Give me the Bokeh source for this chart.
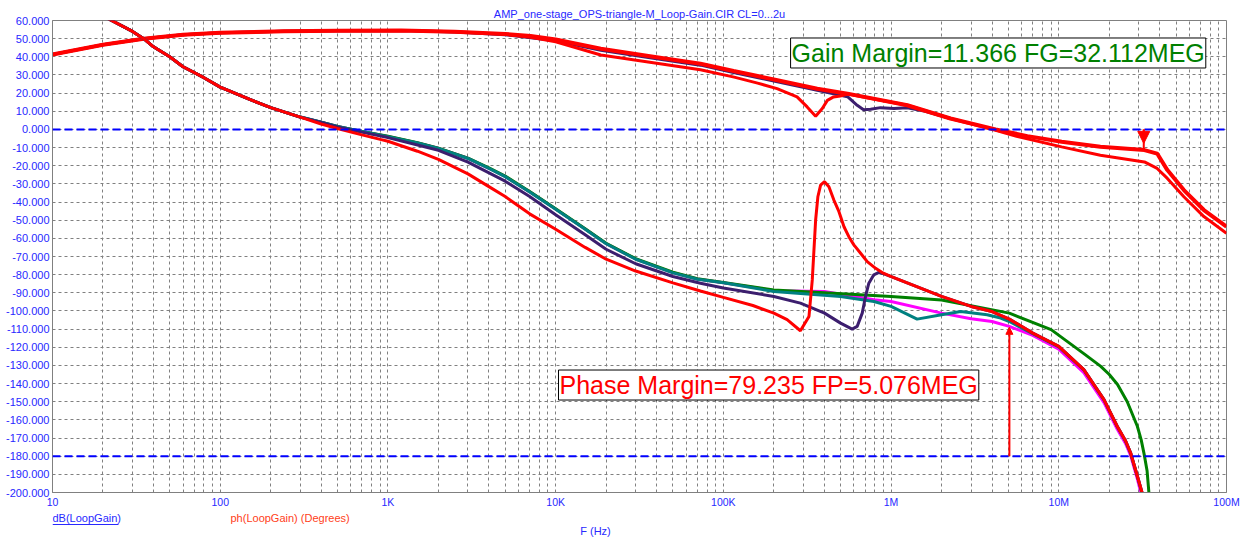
from bokeh.plotting import figure
from bokeh.layouts import column
from bokeh.models import FixedTicker, PrintfTickFormatter, Span, Label, Arrow, NormalHead, Range1d
from bokeh.core.properties import value
from bokeh.embed import file_html
from bokeh.resources import INLINE

FONT = "Liberation Sans"

# ---------------- data ----------------
TITLE = "AMP_one-stage_OPS-triangle-M_Loop-Gain.CIR CL=0...2u"
X_TICKS = [10, 100, 1000, 10000, 100000, 1000000, 10000000, 100000000]
X_TICK_LABELS = ["10", "100", "1K", "10K", "100K", "1M", "10M", "100M"]
Y_TICKS = list(range(-200, 61, 10))

# dB(LoopGain) - upper (overlapping) curve
gain_top_f = [10, 20, 35, 60, 100, 240, 500, 1.2e3, 2.5e3, 5e3, 7.1e3, 1e4, 1.86e4, 4e4, 7.3e4,
              1.15e5, 2e5, 3.63e5, 5.5e5, 1.25e6, 2.26e6, 4.2e6, 6.5e6, 1.04e7, 1.77e7, 3.24e7,
              3.86e7, 4.44e7, 5.57e7, 7.33e7, 1e8]
gain_top_v = [41.3, 46.6, 50, 52.2, 53.2, 54.1, 54.4, 54.5, 53.8, 52.6, 51.5, 49.5, 44.4, 39.8, 36.2,
              32.2, 27.5, 22.4, 19.7, 13.3, 6.0, 0.0, -3.7, -6.8, -9.6, -11.4,
              -13.3, -22.4, -33.4, -44.4, -53.6]
# dB(LoopGain) - red curve with the notch
gain_red_f = [10, 20, 35, 60, 100, 240, 500, 1.2e3, 2.5e3, 5e3, 7.1e3, 1e4, 1.86e4, 4e4, 7.3e4,
              1.16e5, 1.6e5, 2.09e5, 2.75e5, 3.16e5, 3.55e5, 3.89e5, 4.17e5, 4.54e5, 4.98e5, 5.5e5,
              1.25e6, 2.26e6, 4.2e6, 5.6e6, 1.04e7, 1.77e7, 3.24e7, 3.86e7, 4.44e7, 5.57e7, 7.33e7, 1e8]
gain_red_v = [41.3, 46.6, 50, 52.2, 53.2, 54.1, 54.4, 54.5, 53.8, 52.4, 50.8, 48.3, 41.0, 36.5, 32.9,
              28.8, 25.5, 22.5, 17.9, 12.4, 7.3, 11.5, 16.0, 17.9, 18.4, 19.5,
              13.3, 6.0, -0.5, -3.8, -9.6, -14.2, -17.9, -21.5, -27.0, -37.1, -48.0, -57.2]
# dB(LoopGain) - purple curve
gain_pur_f = [10, 20, 35, 60, 100, 240, 500, 1.2e3, 2.5e3, 5e3, 1e4, 1.86e4, 4e4, 7.3e4, 1.15e5,
              2e5, 3.63e5, 5.5e5, 6.28e5, 6.86e5, 7.55e5, 8.65e5, 1.04e6, 1.25e6, 1.6e6, 2.26e6]
gain_pur_v = [41.3, 46.6, 50, 52.2, 53.2, 54.1, 54.4, 54.5, 53.6, 52.2, 48.8, 43.6, 38.9, 35.4, 31.4,
              26.7, 21.6, 18.0, 13.3, 10.9, 11.1, 12.0, 11.5, 11.9, 10.0, 6.0]

# ph(LoopGain)
ph_red_f = [10, 15, 20, 22.5, 30, 35, 40, 50, 60, 80, 100, 150, 200, 300, 400, 500, 700, 900, 1e3,
            1.5e3, 2e3, 3e3, 4e3, 5e3, 7e3, 1e4, 1.5e4, 2e4, 3e4, 5e4, 7.3e4, 1e5, 1.5e5, 2e5, 2.4e5,
            2.88e5, 3.24e5, 3.39e5, 3.55e5, 3.66e5, 3.8e5, 4.01e5, 4.26e5, 4.56e5, 4.89e5, 5.24e5,
            5.6e5, 6e5, 6.58e5, 7.21e5, 8.09e5, 8.99e5, 9.94e5, 2e6, 3e6, 4e6, 5.07e6, 7e6, 1e7,
            1.41e7, 1.86e7, 2.23e7, 2.5e7, 2.68e7, 2.94e7, 3.15e7]
ph_red_v = [78, 68, 62.5, 60, 54, 50, 45.5, 40, 34.5, 28.5, 23.3, 16.5, 12, 6.8, 3.0, 0.5, -3.0, -5.5, -6.5,
            -12, -16.5, -24.5, -31.5, -37, -46.5, -55, -65, -71.5, -78, -84.5, -89, -92.5, -97, -101.2, -104.8,
            -110.9, -103, -82.9, -49.9, -37.1, -30.7, -28.8, -31.6, -38.9, -45.3, -53.6,
            -59.1, -63.6, -68.2, -72.8, -76.5, -79.2, -81, -92, -97.5, -100.3, -104.5, -112.2, -119.5,
            -132.3, -148.8, -163.5, -171.5, -178.1, -190.9, -200.6]
ph_pur_f = [10, 15, 20, 22.5, 30, 35, 40, 50, 60, 80, 100, 150, 200, 300, 400, 500, 700, 1e3,
            2e3, 3e3, 5e3, 7e3, 1e4, 1.5e4, 2e4, 3e4, 5e4, 7.3e4, 1e5, 2e5, 2.88e5, 4.01e5, 5e5,
            5.86e5, 6.28e5, 6.73e5, 7.04e5, 7.37e5, 7.89e5, 8.45e5, 9.06e5, 9.94e5, 2e6, 3e6, 4e6,
            5.07e6, 7e6, 1e7, 1.41e7, 1.86e7, 2.23e7, 2.5e7, 2.68e7, 2.94e7, 3.15e7]
ph_pur_v = [78, 68, 62.5, 60, 54, 50, 45.5, 40, 34.5, 28.5, 23.3, 16.5, 12, 6.8, 3.8, 1.3, -1.5, -4.5,
            -11.5, -18, -28.5, -37, -47, -58, -66, -74, -81, -84.7, -87.4, -92, -95.7, -101.2, -106.7,
            -110, -108.5, -101.2, -92, -84.7, -80.1, -78.8, -79.6, -81, -92, -97.5, -100.3,
            -104.5, -112.2, -119.5, -132.3, -148.8, -163.5, -171.5, -178.1, -190.9, -200.6]
ph_teal_f = [10, 15, 20, 22.5, 30, 35, 40, 50, 60, 80, 100, 150, 200, 300, 400, 500, 700, 1e3,
             1.5e3, 2e3, 3e3, 4e3, 5e3, 7e3, 1e4, 1.5e4, 2e4, 3e4, 5e4, 7e4, 1e5, 2e5, 5e5, 7.9e5,
             1e6, 1.43e6, 2e6, 2.6e6, 3.74e6, 4.5e6, 5.07e6, 7e6, 1e7, 1.41e7, 1.86e7, 2.23e7,
             2.5e7, 2.68e7, 2.94e7, 3.15e7]
ph_teal_v = [78, 68, 62.5, 60, 54, 50, 45.5, 40, 34.5, 28.5, 23.3, 16.5, 12, 6.8, 4, 1.6, -1.1, -4,
             -7.5, -10.5, -16, -21.5, -26, -34.5, -44, -55, -63, -71.5, -79, -82.5, -84.5, -89.3, -92, -94.8,
             -97.5, -104.5, -102.1, -100.3, -102.1, -103.9, -105.8, -112.5, -119.8, -132.5, -149, -163.7,
             -171.7, -178.3, -191, -201]
ph_green_f = [10, 15, 20, 22.5, 30, 35, 40, 50, 60, 80, 100, 150, 200, 300, 400, 500, 700, 1e3,
              1.5e3, 2e3, 3e3, 4e3, 5e3, 7e3, 1e4, 1.5e4, 2e4, 3e4, 5e4, 7e4, 1e5, 2e5, 4e5, 1e6,
              2e6, 5.07e6, 9e6, 1.41e7, 1.78e7, 2e7, 2.24e7, 2.56e7, 2.94e7, 3.1e7, 3.23e7, 3.36e7, 3.45e7]
ph_green_v = [78, 68, 62.5, 60, 54, 50, 45.5, 40, 34.5, 28.5, 23.3, 16.5, 12, 6.8, 4, 1.6, -1.1, -3.8,
              -7.3, -10.3, -15.8, -21.2, -25.7, -34.2, -43.7, -54.7, -62.7, -71.2, -78.6, -82.2, -84.3, -88.5,
              -90, -92, -94, -101.2, -110.3, -123.5, -130.5, -135, -140.5, -150, -163.5, -171, -179,
              -188, -200.6]
ph_mag_f = [10, 15, 20, 22.5, 30, 35, 40, 50, 60, 80, 100, 150, 200, 300, 400, 500, 700, 1e3,
            1.5e3, 2e3, 3e3, 4e3, 5e3, 7e3, 1e4, 1.5e4, 2e4, 3e4, 5e4, 7e4, 1e5, 2e5, 4e5, 7.9e5,
            1e6, 2e6, 3e6, 4e6, 5.07e6, 7e6, 1e7, 1.41e7, 1.86e7, 2.23e7, 2.5e7, 2.68e7, 2.94e7, 3.1e7]
ph_mag_v = [78, 68, 62.5, 60, 54, 50, 45.5, 40, 34.5, 28.5, 23.3, 16.5, 12, 6.8, 4, 1.6, -1.1, -3.9,
            -7.4, -10.4, -15.9, -21.4, -25.9, -34.4, -43.9, -54.9, -62.9, -71.4, -78.9, -82.4, -84.5, -88.8,
            -89.3, -93.8, -94.8, -101.2, -104.3, -105.8, -108.5, -113.5, -121, -134, -150.5, -165,
            -173, -179.5, -192.5, -201]

GM_VALUE = 11.366
GM_FREQ = 32.112e6
GM_HEAD_TIP = -7.7
PM_VALUE = 79.235
PM_FREQ = 5.076e6
PM_ARROW_TOP = -109.0

GAIN_TEXT = "Gain Margin=11.366 FG=32.112MEG"
PHASE_TEXT = "Phase Margin=79.235 FP=5.076MEG"
LEGEND_GAIN = "dB(LoopGain)"
LEGEND_PHASE = "ph(LoopGain) (Degrees)"
X_TITLE = "F (Hz)"

RED = "#ff0000"
PURPLE = "#3c1e6e"
TEAL = "#008080"
GREEN = "#008000"
MAGENTA = "#ff00ff"
BLUE_TXT = "#2828ff"
PH_TXT = "#ff4020"
GRID = "#808080"

W = 1247
MAIN_H = 510
FOOT_H = 33
FRAME_L = 52
FRAME_R = 1226

# ---------------- main figure ----------------
p = figure(width=W, height=MAIN_H, x_axis_type="log",
           x_range=Range1d(10, 1e8), y_range=Range1d(-200, 60),
           output_backend="svg", toolbar_location=None,
           min_border_left=FRAME_L, min_border_right=W - FRAME_R, min_border_top=20,
           min_border_bottom=17)
p.background_fill_color = "white"
p.border_fill_color = "white"
p.outline_line_color = GRID
p.outline_line_width = 1

p.title.text = TITLE
p.title.align = "center"
p.title.text_font = FONT
p.title.text_font_size = "11px"
p.title.text_font_style = "normal"
p.title.text_color = BLUE_TXT
p.title.standoff = 1

minor = [m * d for d in X_TICKS[:-1] for m in range(2, 10)]
p.xaxis.ticker = FixedTicker(ticks=X_TICKS, minor_ticks=minor)
p.xaxis.major_label_overrides = {t: lab for t, lab in zip(X_TICKS, X_TICK_LABELS)}
p.yaxis.ticker = FixedTicker(ticks=Y_TICKS)
p.yaxis.formatter = PrintfTickFormatter(format="%.3f")

for ax in (p.xaxis[0], p.yaxis[0]):
    ax.axis_line_color = GRID
    ax.major_tick_in = 0
    ax.major_tick_out = 0
    ax.minor_tick_in = 0
    ax.minor_tick_out = 0
    ax.major_label_text_color = BLUE_TXT
    ax.major_label_text_font = FONT
p.yaxis.major_label_text_font_size = "11px"
p.yaxis.major_label_standoff = 3
p.xaxis.major_label_text_font_size = "10.5px"
p.xaxis.major_label_standoff = 3

for g in (p.xgrid[0], p.ygrid[0]):
    g.grid_line_color = GRID
    g.grid_line_dash = "3 3"
    g.grid_line_width = 1
p.xgrid.minor_grid_line_color = GRID
p.xgrid.minor_grid_line_dash = "3 3"
p.xgrid.minor_grid_line_width = 1

# reference lines (0 dB and -180 deg)
for loc in (0, -180):
    p.add_layout(Span(location=loc, dimension="width", line_color="#0000ff",
                      line_width=2, line_dash="8 4"))

# gain curves
p.line(gain_pur_f, gain_pur_v, line_color=PURPLE, line_width=3)
p.line(gain_top_f, gain_top_v, line_color=RED, line_width=4)
p.line(gain_red_f, gain_red_v, line_color=RED, line_width=3)

# phase curves
p.line(ph_mag_f, ph_mag_v, line_color=MAGENTA, line_width=3)
p.line(ph_green_f, ph_green_v, line_color=GREEN, line_width=3)
p.line(ph_teal_f, ph_teal_v, line_color=TEAL, line_width=3)
p.line(ph_pur_f, ph_pur_v, line_color=PURPLE, line_width=3)
p.line(ph_red_f, ph_red_v, line_color=RED, line_width=3)

# gain margin marker: stem + downward triangle starting on the 0 dB line
p.add_layout(Arrow(x_start=GM_FREQ, y_start=0, x_end=GM_FREQ, y_end=-GM_VALUE,
                   line_color=RED, line_width=2, start=None, end=None))
p.add_layout(Arrow(x_start=GM_FREQ, y_start=0, x_end=GM_FREQ, y_end=GM_HEAD_TIP,
                   line_color=RED, line_width=2,
                   end=NormalHead(size=12, fill_color=RED, line_color=RED)))
# phase margin marker
p.add_layout(Arrow(x_start=PM_FREQ, y_start=-180, x_end=PM_FREQ, y_end=PM_ARROW_TOP,
                   line_color=RED, line_width=2,
                   end=NormalHead(size=7, fill_color=RED, line_color=RED)))

# margin boxes
p.add_layout(Label(x=251.7e3, y=42.1, text=GAIN_TEXT, text_font=FONT, text_font_size="25px",
                   text_color=GREEN, text_align="left", text_baseline="middle",
                   background_fill_color="white", border_line_color="black",
                   border_line_width=1, padding=1))
p.add_layout(Label(x=10.4e3, y=-140.8, text=PHASE_TEXT, text_font=FONT, text_font_size="25px",
                   text_color=RED, text_align="left", text_baseline="middle",
                   background_fill_color="white", border_line_color="black",
                   border_line_width=1, padding=1))

# ---------------- footer strip with the legend texts ----------------
# (its frame is aligned with the main frame, so x runs in page pixels FRAME_L..FRAME_R)
f = figure(width=W, height=FOOT_H, x_range=Range1d(FRAME_L, FRAME_R), y_range=Range1d(FOOT_H, 0),
           output_backend="svg", toolbar_location=None,
           x_axis_location=None, y_axis_location=None,
           min_border_left=FRAME_L, min_border_right=W - FRAME_R,
           min_border_top=0, min_border_bottom=0)
f.outline_line_color = None
f.background_fill_color = "white"
f.border_fill_color = "white"
f.xgrid.visible = False
f.ygrid.visible = False

f.text(x=[52], y=[7], text=[LEGEND_GAIN], text_font=value(FONT), text_font_size="11px",
       text_color=BLUE_TXT, text_baseline="middle", text_align="left")
f.segment(x0=[52], y0=[14], x1=[118], y1=[14], line_color=BLUE_TXT, line_width=1)
f.text(x=[230], y=[7], text=[LEGEND_PHASE], text_font=value(FONT), text_font_size="11px",
       text_color=PH_TXT, text_baseline="middle", text_align="left")
f.text(x=[595], y=[20], text=[X_TITLE], text_font=value(FONT), text_font_size="11px",
       text_color=BLUE_TXT, text_baseline="middle", text_align="center")

layout = column(p, f, spacing=0)
open("out.html", "w").write(file_html(layout, INLINE))
